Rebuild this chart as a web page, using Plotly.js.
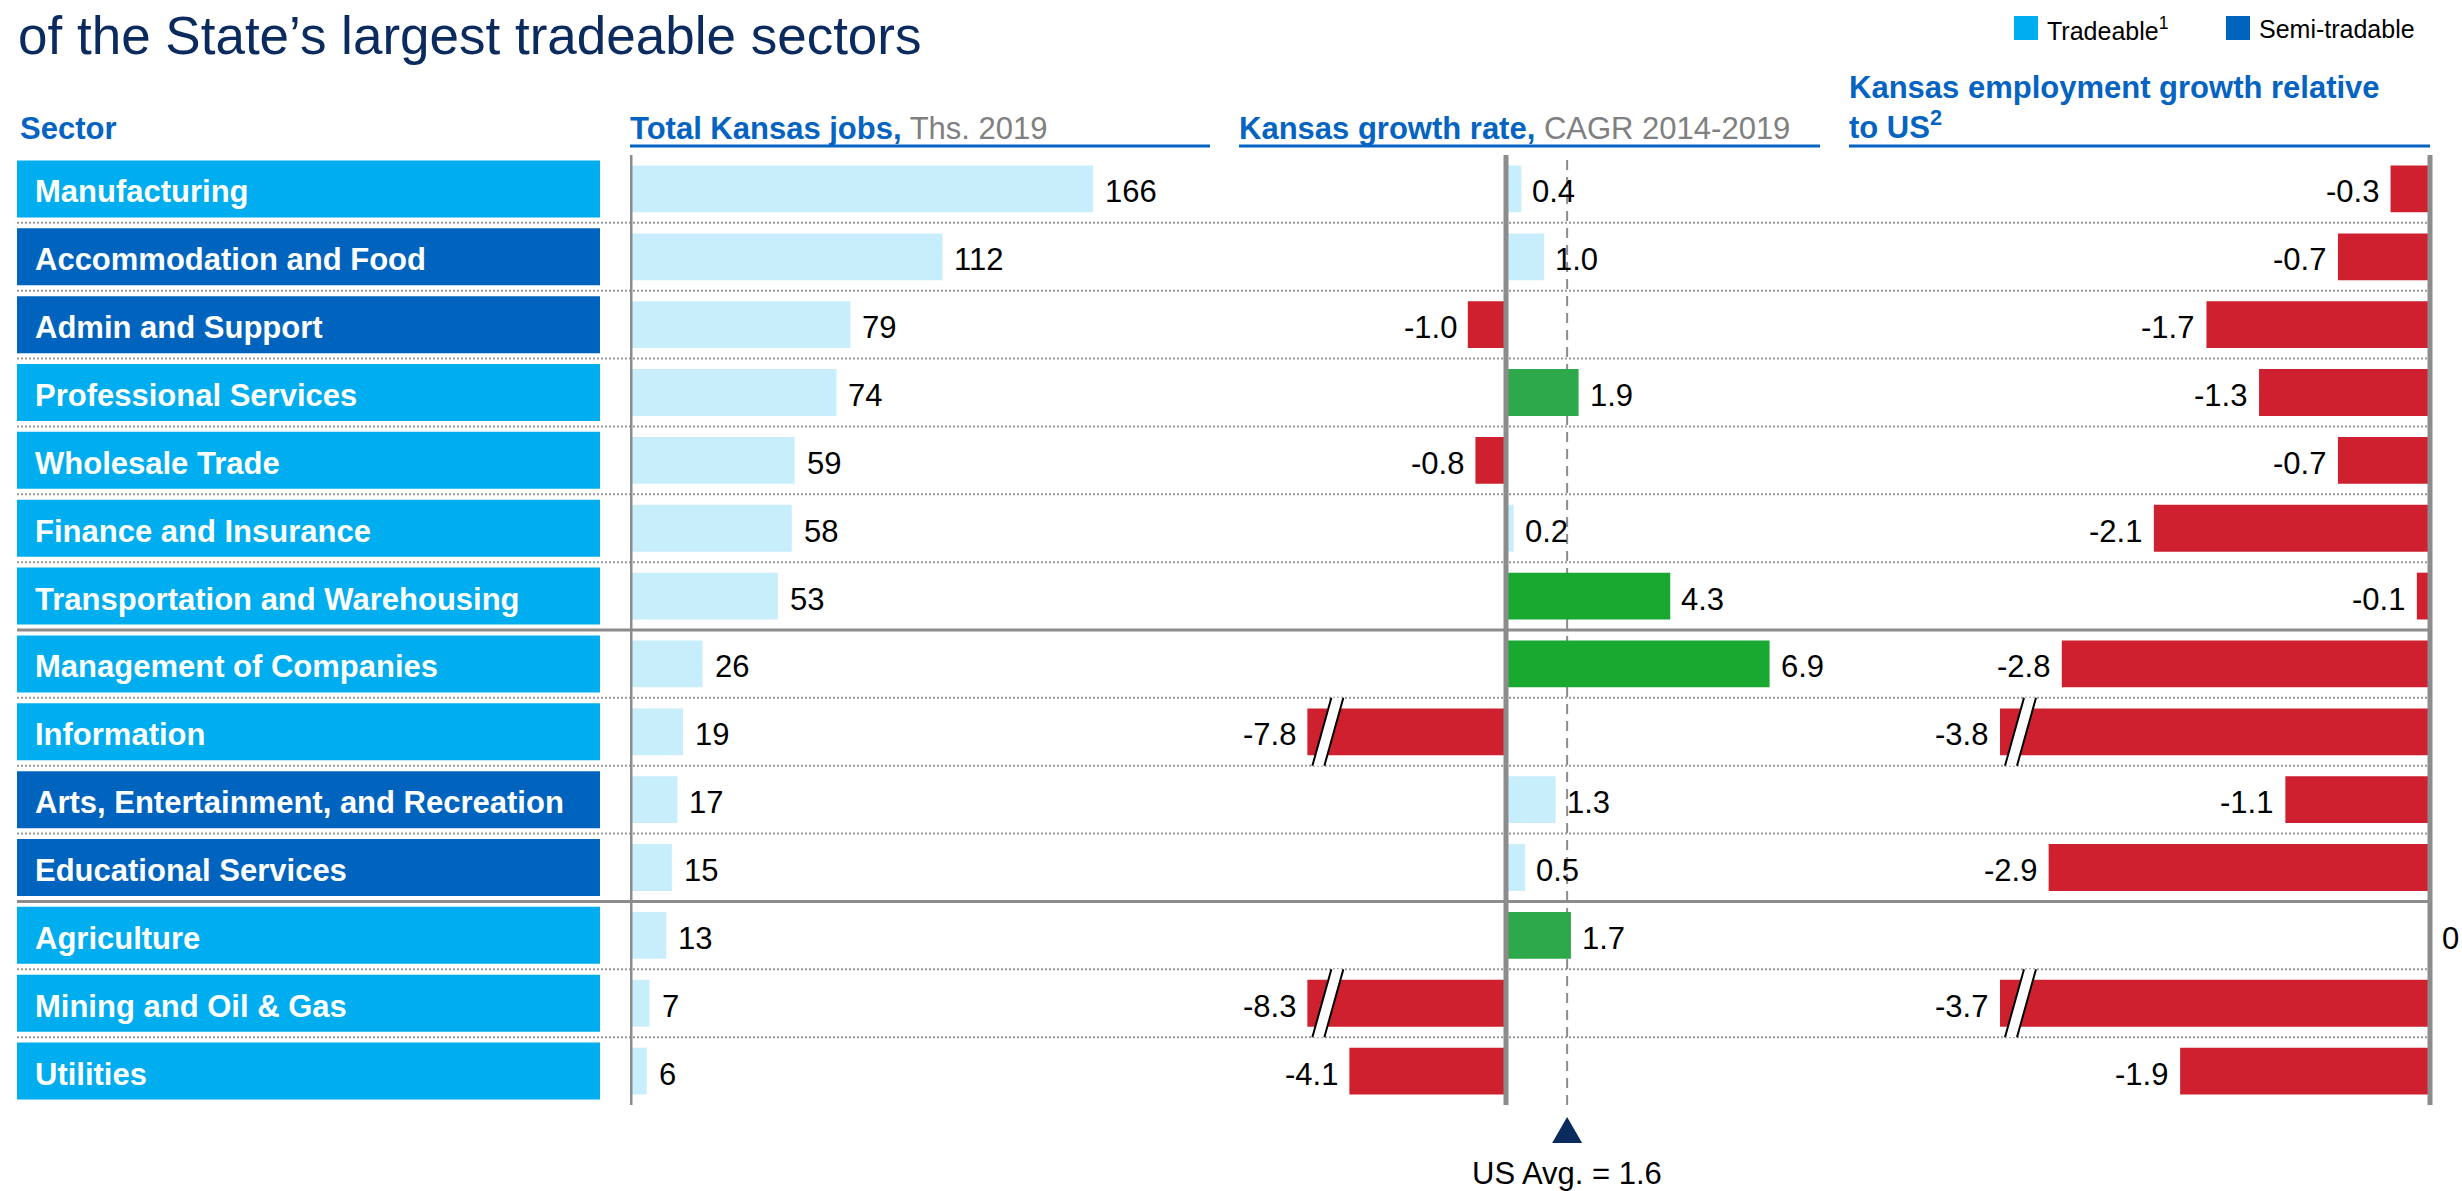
<!DOCTYPE html>
<html>
<head>
<meta charset="utf-8">
<script src="https://cdn.plot.ly/plotly-3.0.1.min.js"></script>
<style>
  html, body { margin: 0; padding: 0; background: #fff; }
  #myGraph { width: 2462px; height: 1191px; }
</style>
</head>
<body>
<div id="myGraph"></div>
<script>
"use strict";

// sectors, top to bottom
var sectors = ['Manufacturing', 'Accommodation and Food', 'Admin and Support',
    'Professional Services', 'Wholesale Trade', 'Finance and Insurance',
    'Transportation and Warehousing', 'Management of Companies', 'Information',
    'Arts, Entertainment, and Recreation', 'Educational Services', 'Agriculture',
    'Mining and Oil & Gas', 'Utilities'];
// T = tradeable, S = semi-tradable
var sectorType = ['T', 'S', 'S', 'T', 'T', 'T', 'T', 'T', 'T', 'S', 'S', 'T', 'T', 'T'];
// total Kansas jobs, ths. 2019
var jobs = [166, 112, 79, 74, 59, 58, 53, 26, 19, 17, 15, 13, 7, 6];
// Kansas growth rate, CAGR 2014-2019
var growth = [0.4, 1.0, -1.0, 1.9, -0.8, 0.2, 4.3, 6.9, -7.8, 1.3, 0.5, 1.7, -8.3, -4.1];
// Kansas employment growth relative to US
var relGrowth = [-0.3, -0.7, -1.7, -1.3, -0.7, -2.1, -0.1, -2.8, -3.8, -1.1, -2.9, 0, -3.7, -1.9];
// US average growth
var usAvg = 1.6;
// a solid rule follows these sectors
var groupEnds = ['Transportation and Warehousing', 'Educational Services'];

drawChart();

function drawChart() {
    var graphID = 'myGraph';
    var W = 2462, H = 1191;
    function px(x) { return x / W; }
    function py(y) { return 1 - y / H; }

    var font = 'Liberation Sans, Arial, sans-serif';
    var col = {
        tradeable: '#00adef', semi: '#0064be', light: '#c8eefc',
        green: '#2da84b', green2: '#19a830', red: '#cf202f',
        blue: '#0563c1', grey: '#8c8c8c', navy: '#0b2a5e'
    };

    // broken bars are cut at these values
    var brk2 = -5.2;
    var brk3 = -3.27;

    var rows = sectors.map(function (s, i) { return i; });
    var yDom = [py(1105), py(155)];

    var growthShown = growth.map(function (v) { return Math.max(v, brk2); });
    var relShown = relGrowth.map(function (v) { return Math.max(v, brk3); });
    var growthColor = growth.map(function (v) {
        if (v < 0) return col.red;
        if (v >= 2 * usAvg) return col.green2;
        if (v >= usAvg) return col.green;
        return col.light;
    });

    var data = [
        { type: 'bar', orientation: 'h', xaxis: 'x4', yaxis: 'y', y: rows,
          x: sectors.map(function () { return 1; }), width: 0.84,
          marker: { color: sectorType.map(function (t) { return t === 'T' ? col.tradeable : col.semi; }) },
          hoverinfo: 'skip' },
        { type: 'bar', orientation: 'h', xaxis: 'x', yaxis: 'y', y: rows, x: jobs,
          width: 0.69, marker: { color: col.light }, hoverinfo: 'skip' },
        { type: 'bar', orientation: 'h', xaxis: 'x2', yaxis: 'y', y: rows, x: growthShown,
          width: 0.69, marker: { color: growthColor }, hoverinfo: 'skip' },
        { type: 'bar', orientation: 'h', xaxis: 'x3', yaxis: 'y', y: rows, x: relShown,
          width: 0.69, marker: { color: col.red }, hoverinfo: 'skip' }
    ];

    var ann = [];
    var shapes = [];
    var lbl = { family: font, size: 31, color: '#000' };
    var dy = -3; // nudge row texts down a little

    // sector labels and value labels
    for (var i = 0; i < sectors.length; i++) {
        ann.push({ xref: 'paper', yref: 'y', x: px(33), y: i, yshift: dy, xanchor: 'left', yanchor: 'middle',
                   text: sectors[i], showarrow: false,
                   font: { family: font, size: 31, color: '#fff', weight: 'bold' } });
        ann.push({ xref: 'x', yref: 'y', x: jobs[i], y: i, yshift: dy, xanchor: 'left', xshift: 10,
                   text: String(jobs[i]), showarrow: false, font: lbl });
        var g = growthShown[i];
        ann.push({ xref: 'x2', yref: 'y', x: g, y: i, yshift: dy, xanchor: g < 0 ? 'right' : 'left',
                   xshift: g < 0 ? -9 : 9, text: growth[i].toFixed(1), showarrow: false, font: lbl });
        var r = relShown[i];
        ann.push({ xref: 'x3', yref: 'y', x: r, y: i, yshift: dy, xanchor: r < 0 ? 'right' : 'left',
                   xshift: r < 0 ? -10 : 10,
                   text: relGrowth[i] === 0 ? '0' : relGrowth[i].toFixed(1), showarrow: false, font: lbl });

        // break marks on cut bars
        var cuts = [];
        if (growth[i] < brk2) cuts.push(['x2', brk2]);
        if (relGrowth[i] < brk3) cuts.push(['x3', brk3]);
        cuts.forEach(function (c) {
            var base = { type: 'path', xref: c[0], yref: 'y', xsizemode: 'pixel', ysizemode: 'pixel',
                         xanchor: c[1], yanchor: i, layer: 'above' };
            shapes.push(Object.assign({}, base, {
                path: 'M 5,-34 L 24,34 L 36,34 L 17,-34 Z', fillcolor: '#fff', line: { width: 0 } }));
            shapes.push(Object.assign({}, base, {
                path: 'M 5,-34 L 24,34 M 17,-34 L 36,34', line: { color: '#000', width: 2 } }));
        });

        // row separators
        if (i < sectors.length - 1) {
            var solid = groupEnds.indexOf(sectors[i]) >= 0;
            shapes.push({ type: 'line', xref: 'paper', yref: 'y', x0: px(17), x1: px(2430),
                          y0: i + 0.5, y1: i + 0.5, layer: 'below',
                          line: solid ? { color: col.grey, width: 3 }
                                      : { color: '#999', width: 2, dash: '2px,2px' } });
        }
    }

    // axis lines at zero
    ['x', 'x2', 'x3'].forEach(function (ax) {
        shapes.push({ type: 'line', xref: ax, yref: 'paper', x0: 0, x1: 0, y0: yDom[0], y1: yDom[1],
                      line: { color: col.grey, width: 5 } });
    });

    // US average line and marker
    shapes.push({ type: 'line', xref: 'x2', yref: 'paper', x0: usAvg, x1: usAvg, y0: yDom[0], y1: yDom[1],
                  layer: 'below', line: { color: col.grey, width: 2, dash: '10px,7px' } });
    shapes.push({ type: 'path', xref: 'x2', yref: 'paper', xsizemode: 'pixel', ysizemode: 'pixel',
                  xanchor: usAvg, yanchor: yDom[0], path: 'M -15,-38 L 15,-38 L 0,-12 Z',
                  fillcolor: col.navy, line: { width: 0 } });
    ann.push({ xref: 'x2', yref: 'paper', x: usAvg, y: yDom[0], yshift: -68, yanchor: 'middle',
               text: 'US Avg. = ' + usAvg.toFixed(1), showarrow: false, font: lbl });

    // header underlines
    [[630, 1210], [1239, 1820], [1849, 2430]].forEach(function (s) {
        shapes.push({ type: 'line', xref: 'paper', yref: 'paper', x0: px(s[0]), x1: px(s[1]),
                      y0: py(146), y1: py(146), line: { color: col.blue, width: 3 } });
    });

    // headers
    var hf = { family: font, size: 31, color: col.blue };
    ann.push({ xref: 'paper', yref: 'paper', x: px(18), y: py(128), xanchor: 'left', yanchor: 'middle',
               text: '<b>Sector</b>', showarrow: false, font: hf });
    ann.push({ xref: 'paper', yref: 'paper', x: px(628), y: py(128), xanchor: 'left', yanchor: 'middle',
               text: '<b>Total Kansas jobs,</b> <span style="color:#808080">Ths. 2019</span>',
               showarrow: false, font: hf });
    ann.push({ xref: 'paper', yref: 'paper', x: px(1237), y: py(128), xanchor: 'left', yanchor: 'middle',
               text: '<b>Kansas growth rate,</b> <span style="color:#808080">CAGR 2014-2019</span>',
               showarrow: false, font: hf });
    ann.push({ xref: 'paper', yref: 'paper', x: px(1847), y: py(108), xanchor: 'left', yanchor: 'middle',
               align: 'left', text: '<b>Kansas employment growth relative<br>to US<sup>2</sup></b>',
               showarrow: false, font: hf });

    // title
    ann.push({ xref: 'paper', yref: 'paper', x: px(16), y: py(36), xanchor: 'left', yanchor: 'middle',
               text: 'of the State\u2019s largest tradeable sectors', showarrow: false,
               font: { family: font, size: 53, color: col.navy } });

    // legend
    [[2014, col.tradeable, 'Tradeable<sup>1</sup>'], [2226, col.semi, 'Semi-tradable']].forEach(function (l) {
        shapes.push({ type: 'rect', xref: 'paper', yref: 'paper', x0: px(l[0]), x1: px(l[0] + 24),
                      y0: py(40), y1: py(16), fillcolor: l[1], line: { width: 0 } });
        ann.push({ xref: 'paper', yref: 'paper', x: px(l[0] + 31), y: py(29), xanchor: 'left', yanchor: 'middle',
                   text: l[2], showarrow: false, font: { family: font, size: 25, color: '#000' } });
    });

    function hidden(dom, range) {
        return { domain: dom, range: range, anchor: 'y', visible: false, fixedrange: true };
    }

    var layout = {
        width: W, height: H,
        margin: { l: 0, r: 0, t: 0, b: 0 },
        paper_bgcolor: '#fff', plot_bgcolor: 'rgba(0,0,0,0)',
        showlegend: false,
        xaxis: hidden([px(630), px(1230)], [0, 600 / 2.79]),
        xaxis2: hidden([px(1240), px(1820)], [(1240 - 1506) / 38.2, (1820 - 1506) / 38.2]),
        xaxis3: hidden([px(1850), px(2462)], [(1850 - 2430) / 131.5, (2462 - 2430) / 131.5]),
        xaxis4: hidden([px(17), px(600)], [0, 1]),
        yaxis: { domain: yDom, range: [sectors.length - 0.5, -0.5], visible: false, fixedrange: true },
        shapes: shapes,
        annotations: ann
    };

    Plotly.newPlot(graphID, data, layout, { staticPlot: true });
}
</script>
</body>
</html>
